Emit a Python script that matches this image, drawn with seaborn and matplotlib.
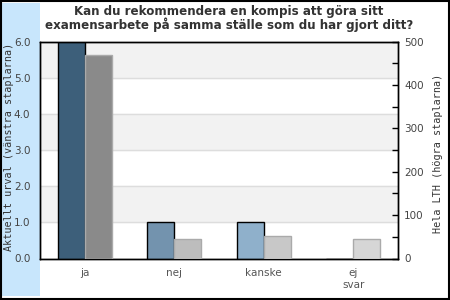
import matplotlib
matplotlib.use("Agg")
import matplotlib.pyplot as plt
import seaborn as sns
import pandas as pd
from matplotlib.patches import Rectangle

title = "Kan du rekommendera en kompis att göra sitt\nexamensarbete på samma ställe som du har gjort ditt?"
categories = ["ja", "nej", "kanske", "ej\nsvar"]
current_sample = [6.0, 1.0, 1.0, 0.0]
all_lth = [470, 44, 51, 46]
left_colors = ["#3d5f7a", "#7393ae", "#8fb0cb", "#a8c4da"]
right_colors = ["#8a8a8a", "#bdbdbd", "#c8c8c8", "#d6d6d6"]
left_ticks = [0, 1, 2, 3, 4, 5, 6]
right_ticks = [0, 50, 100, 150, 200, 250, 300, 350, 400, 450, 500]
left_label = "Aktuellt urval (vänstra staplarna)"
right_label = "Hela LTH (högra staplarna)"

sns.set_theme(style="white")
plt.rcParams['font.family'] = ['DejaVu Sans']

fig = plt.figure(figsize=(4.5, 3), dpi=100)
fig.patch.set_facecolor("white")
fig.patches.append(Rectangle((0.004, 0.012), 40 / 450 - 0.004, 0.978,
                             transform=fig.transFigure, facecolor="#c8e6fc",
                             edgecolor="none", zorder=-1))
fig.patches.append(Rectangle((0.002, 0.004), 0.995, 0.993, transform=fig.transFigure,
                             fill=False, edgecolor="black", lw=1.5, zorder=5))

ax = fig.add_axes([40 / 450, 41.5 / 300, 358 / 450, 216.8 / 300])
ax.set_facecolor("white")

df_left = pd.DataFrame({"cat": categories, "series": "Aktuellt", "value": current_sample})
df_right = pd.DataFrame({"cat": categories, "series": "LTH", "value": all_lth})

sns.barplot(data=df_left, x="cat", y="value", hue="series", hue_order=["Aktuellt", "LTH"],
            order=categories, dodge=True, width=0.6, ax=ax, legend=False,
            linewidth=1, edgecolor="black", saturation=1, zorder=3)
for p, c in zip(sorted(ax.patches, key=lambda r: r.get_x()), left_colors):
    p.set_facecolor(c)

for k in (1, 3, 5):
    ax.axhspan(k, k + 1, color="#f2f2f2", zorder=0)
ax.yaxis.grid(True, color="#dddddd", lw=1, zorder=1)
ax.set_axisbelow(True)
ax.set_ylim(0, 6)
ax.set_yticks(left_ticks)
ax.set_yticklabels([f"{v:.1f}" for v in left_ticks])
ax.set_xlabel("")
ax.set_ylabel("")

ax2 = ax.twinx()
sns.barplot(data=df_right, x="cat", y="value", hue="series", hue_order=["Aktuellt", "LTH"],
            order=categories, dodge=True, width=0.6, ax=ax2, legend=False,
            linewidth=1, edgecolor="#aaaaaa", saturation=1, zorder=3)
for p, c in zip(sorted(ax2.patches, key=lambda r: r.get_x()), right_colors):
    p.set_facecolor(c)
ax2.set_ylim(0, 500)
ax2.set_yticks(right_ticks)
ax2.set_yticklabels([str(v) if v % 100 == 0 else "" for v in right_ticks])
ax2.set_xlim(-0.5, 3.5)
ax2.set_xlabel("")
ax2.set_ylabel("")

ax.tick_params(axis="y", which="both", left=False, right=False, labelleft=True,
               length=0, pad=7, labelsize=7.5, labelcolor="#444444")
ax.tick_params(axis="x", which="both", bottom=False, top=False, length=0, pad=7,
               labelsize=7.5, labelcolor="#555555")
ax2.yaxis.set_ticks_position("right")
ax2.tick_params(axis="y", which="both", left=False, labelleft=False, right=True,
                labelright=True, direction="in", length=4, width=1, color="black",
                pad=4.5, labelsize=7.5, labelcolor="#444444")

for a in (ax, ax2):
    for s in a.spines.values():
        s.set_color("black")
        s.set_linewidth(1)

fig.text(229 / 450, 1 - 18.5 / 300, title, ha="center", va="center", fontsize=8.6,
         fontweight="bold", family="DejaVu Sans", color="#333333", linespacing=0.95)
fig.text(9 / 450, 1 - 147 / 300, left_label, rotation=90, ha="center", va="center",
         family="DejaVu Sans Mono", fontsize=7.3, color="#333333")
fig.text(438 / 450, 1 - 153 / 300, right_label, rotation=90, ha="center", va="center",
         family="DejaVu Sans Mono", fontsize=7.3, color="#333333")

fig.savefig("out.png", dpi=100)
